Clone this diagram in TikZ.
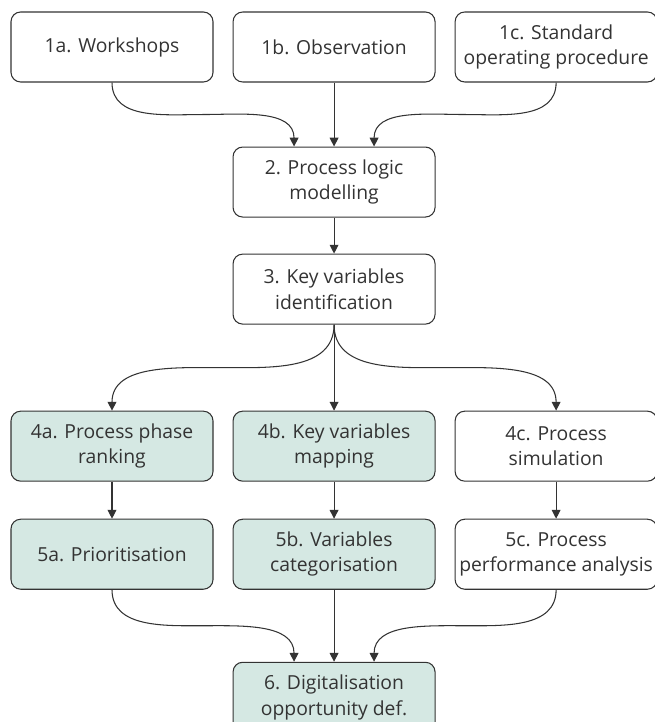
\documentclass[tikz,border=0pt]{standalone}
\usepackage{fontspec}
\setmainfont{Open Sans}
\usepackage{tikz}
\usetikzlibrary{positioning, arrows.meta, calc}
\definecolor{edge}{HTML}{333333}
\definecolor{mint}{HTML}{D5E8E3}

\begin{document}
\begin{tikzpicture}[stage/.style={draw=edge, text=edge, line width=0.6pt, rounded corners=5.5pt, minimum width=4.04cm, minimum height=1.4cm, align=center, inner sep=2pt, font=\fontsize{11}{14.5}\selectfont},
    shaded/.style={stage, fill=mint},
    flow/.style={draw=edge, line width=0.6pt, -{Triangle[length=5pt, width=5pt]}}]
    \useasboundingbox (0,0) rectangle (13.08,-14.44);
    \node[stage] (ws) at (2.24,-0.94) {1a. Workshops};
    \node[stage] (ob) [right=0.38cm of ws] {1b. Observation};
    \node[stage] (sop) [right=0.38cm of ob] {1c. Standard\\operating procedure};
    \node[stage] (plm) [below=1.28cm of ob] {2. Process logic\\modelling};
    \node[stage] (kvi) [below=0.72cm of plm] {3. Key variables\\identification};
    \node[shaded] (kvm) [below=1.72cm of kvi] {4b. Key variables\\mapping};
    \node[shaded] (ppr) [left=0.38cm of kvm] {4a. Process phase\\ranking};
    \node[stage] (psim) [right=0.38cm of kvm] {4c. Process\\simulation};
    \node[shaded] (pri) [below=0.74cm of ppr] {5a. Prioritisation};
    \node[shaded] (vc) [below=0.74cm of kvm] {5b. Variables\\categorisation};
    \node[stage] (ppa) [below=0.74cm of psim] {5c. Process\\performance analysis};
    \node[shaded] (dod) [below=1.44cm of vc] {6. Digitalisation\\opportunity def.};
    \draw[flow] (ws.south) to[out=-90, in=180] ($(ws.south)!.5!([xshift=-0.8cm]plm.north)$) to[out=0, in=90] ([xshift=-0.8cm]plm.north);
    \draw[flow] (ob) -- (plm);
    \draw[flow] (sop.south) to[out=-90, in=0] ($(sop.south)!.5!([xshift=0.8cm]plm.north)$) to[out=180, in=90] ([xshift=0.8cm]plm.north);
    \draw[flow] (plm) -- (kvi);
    \draw[flow] (kvi.south) to[out=-90, in=0] ($(kvi.south)!.5!(ppr.north)$) to[out=180, in=90] (ppr.north);
    \draw[flow] (kvi) -- (kvm);
    \draw[flow] (kvi.south) to[out=-90, in=180] ($(kvi.south)!.5!(psim.north)$) to[out=0, in=90] (psim.north);
    \draw[flow] (ppr) -- (pri);
    \draw[flow] (kvm) -- (vc);
    \draw[flow] (psim) -- (ppa);
    \draw[flow] (pri.south) to[out=-90, in=180] ($(pri.south)!.5!([xshift=-0.8cm]dod.north)$) to[out=0, in=90] ([xshift=-0.8cm]dod.north);
    \draw[flow] (vc) -- (dod);
    \draw[flow] (ppa.south) to[out=-90, in=0] ($(ppa.south)!.5!([xshift=0.8cm]dod.north)$) to[out=180, in=90] ([xshift=0.8cm]dod.north);
\end{tikzpicture}
\end{document}
